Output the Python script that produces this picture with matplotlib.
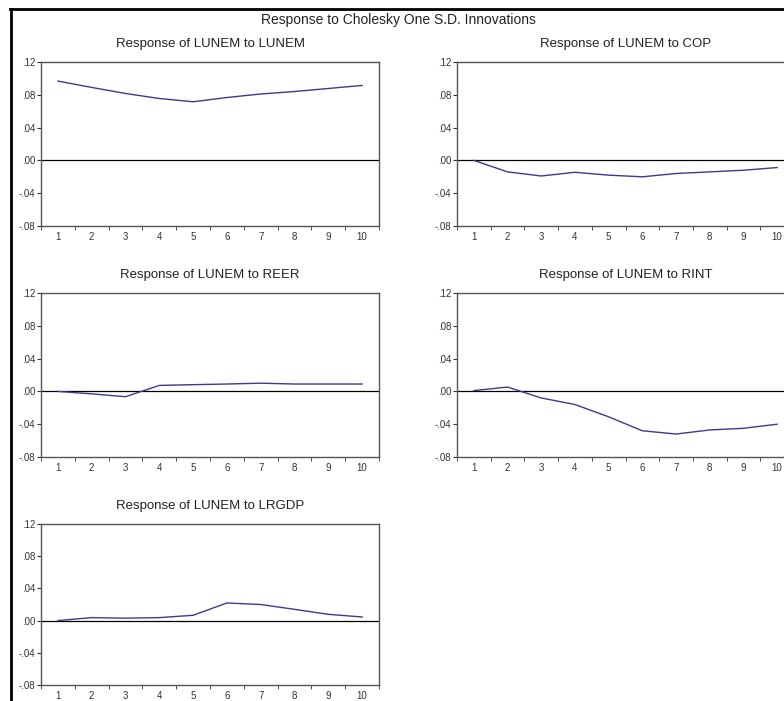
import matplotlib
matplotlib.use("Agg")
import matplotlib.pyplot as plt
from matplotlib.lines import Line2D
import numpy as np

plt.rcParams['font.family'] = ['Liberation Sans', 'DejaVu Sans']

periods = [1, 2, 3, 4, 5, 6, 7, 8, 9, 10]
to_lunem = [0.0967, 0.089, 0.0816, 0.0755, 0.0715, 0.0767, 0.081, 0.084, 0.0877, 0.0914]
to_cop = [0.0, -0.014, -0.019, -0.0145, -0.018, -0.020, -0.016, -0.014, -0.012, -0.0087]
to_reer = [0.0, -0.003, -0.0065, 0.0073, 0.0082, 0.009, 0.0100, 0.009, 0.009, 0.009]
to_rint = [0.001, 0.0053, -0.008, -0.016, -0.031, -0.048, -0.052, -0.047, -0.045, -0.040]
to_lrgdp = [0.0, 0.0037, 0.003, 0.0037, 0.0066, 0.0219, 0.020, 0.014, 0.0078, 0.0045]

titles = ["Response of LUNEM to LUNEM", "Response of LUNEM to COP",
          "Response of LUNEM to REER", "Response of LUNEM to RINT",
          "Response of LUNEM to LRGDP"]
series = [to_lunem, to_cop, to_reer, to_rint, to_lrgdp]
yticks = [-0.08, -0.04, 0.0, 0.04, 0.08, 0.12]
ylabels = ["-.08", "-.04", ".00", ".04", ".08", ".12"]

W, H = 784, 701
fig = plt.figure(figsize=(W / 100, H / 100), dpi=100)

# pixel boxes: left, top, right, bottom
boxes = [(41, 62, 379, 226), (457, 62, 794, 226),
         (41, 293, 379, 457), (457, 293, 794, 457),
         (41, 524, 379, 685)]

for (l, t, r, b), ys, title in zip(boxes, series, titles):
    ax = fig.add_axes([l / W, 1 - b / H, (r - l) / W, (b - t) / H])
    ax.axhline(0, color='black', lw=0.9)
    ax.plot(periods, ys, color='#3b3b8f', lw=1.0)
    ax.set_xlim(0.5, 10.5)
    ax.set_ylim(-0.08, 0.12)
    ax.set_xticks(periods)
    ax.set_xticks(np.arange(0.5, 11, 1), minor=True)
    ax.tick_params(axis='x', which='major', length=0, labelsize=7, pad=4, colors='#333333')
    ax.tick_params(axis='x', which='minor', length=3, direction='out', color='#333333')
    ax.set_yticks(yticks)
    ax.set_yticklabels(ylabels)
    ax.tick_params(axis='y', length=3, direction='out', labelsize=7, pad=1, colors='#333333')
    for s in ax.spines.values():
        s.set_color('#555555')
        s.set_linewidth(1.0)
    ax.set_title(title, fontsize=9.5, pad=11, color='#222222')

fig.text(398 / W, 1 - 20 / H, "Response to Cholesky One S.D. Innovations",
         ha='center', va='center', fontsize=10, color='#222222')

# outer frame edges (top and left)
fig.add_artist(Line2D([10 / W, 1], [1 - 9 / H, 1 - 9 / H], color='black', lw=2))
fig.add_artist(Line2D([11 / W, 11 / W], [0, 1 - 9 / H], color='black', lw=2))

fig.savefig("out.png", dpi=100)
